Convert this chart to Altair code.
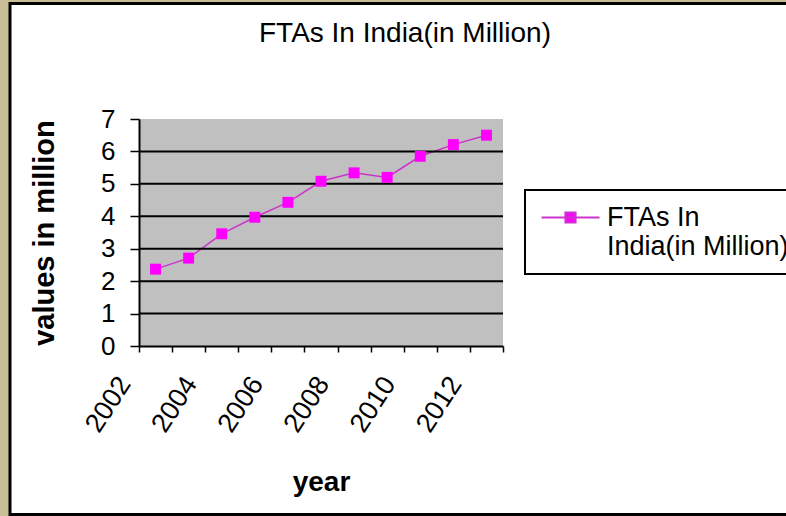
import altair as alt
import pandas as pd

years = ["2002", "2003", "2004", "2005", "2006", "2007", "2008", "2009", "2010", "2011", "2012"]
values = [2.37, 2.71, 3.46, 3.97, 4.43, 5.08, 5.34, 5.20, 5.85, 6.21, 6.50]
series_name = "FTAs In India(in Million)"
legend_lines = ["FTAs In", "India(in Million)"]
y_tick_values = [0, 1, 2, 3, 4, 5, 6, 7]
grid_values = [1, 2, 3, 4, 5, 6]

df = pd.DataFrame({"year": years, "value": values, "series": series_name})
grid_df = pd.DataFrame({"g": grid_values})
one = pd.DataFrame({"k": [0]})

W, H = 364, 227
PL, PT = 139, 119
TOTAL_W, TOTAL_H = 786, 516
FONT = "Liberation Sans"

yscale = alt.Scale(domain=[0, 7], nice=False, zero=True)
xscale = alt.Scale(type="band", paddingInner=0, paddingOuter=0)

xaxis = alt.Axis(
    title="year",
    labelExpr="parseInt(datum.value) % 2 == 0 ? datum.label : ''",
    labelAngle=-57, labelAlign="right", labelBaseline="middle",
    labelFontSize=27, labelPadding=27, labelOffset=-31, labelOverlap=False,
    tickBand="extent", tickSize=6, tickColor="black", tickWidth=1.5,
    domainColor="black", domainWidth=2, grid=False,
    titleFontSize=28, titleFontWeight="bold", titleY=144, titleBaseline="alphabetic",
    labelColor="black", titleColor="black", zindex=1,
)

yaxis = alt.Axis(
    title="values in million", values=y_tick_values, grid=False,
    tickSize=9, tickColor="black", tickWidth=1.5, labelPadding=15, labelFontSize=26,
    titleFontSize=29, titleFontWeight="bold", titleAngle=-90, titleX=-86, titleY=H / 2,
    titleBaseline="alphabetic", titleAlign="center",
    domainColor="black", domainWidth=2, labelColor="black", titleColor="black", zindex=1,
)

# white page inside the khaki border
frame = alt.Chart(one).mark_rect(fill="white").encode(
    x=alt.value(10 - PL), x2=alt.value(TOTAL_W - PL),
    y=alt.value(3 - PT), y2=alt.value(TOTAL_H - 2 - PT),
)
border_left = alt.Chart(one).mark_rule(color="black", strokeWidth=3).encode(
    x=alt.value(10 - PL), y=alt.value(2 - PT), y2=alt.value(TOTAL_H - PT)
)
border_top = alt.Chart(one).mark_rule(color="black", strokeWidth=3).encode(
    y=alt.value(3.5 - PT), x=alt.value(9 - PL), x2=alt.value(TOTAL_W - PL)
)
border_bottom = alt.Chart(one).mark_rule(color="black", strokeWidth=3).encode(
    y=alt.value(TOTAL_H - 1.5 - PT), x=alt.value(9 - PL), x2=alt.value(TOTAL_W - PL)
)

plotbg = alt.Chart(one).mark_rect(fill="#C0C0C0").encode(
    x=alt.value(0), x2=alt.value(W), y=alt.value(0), y2=alt.value(H)
)

line = alt.Chart(df).mark_line(strokeWidth=1.5).encode(
    x=alt.X("year:O", scale=xscale, axis=xaxis),
    y=alt.Y("value:Q", scale=yscale, axis=yaxis),
    color=alt.Color(
        "series:N",
        scale=alt.Scale(domain=[series_name], range=["#CC33CC"]),
        legend=alt.Legend(
            title=None, orient="none", legendX=386, legendY=71,
            labelFontSize=27, labelLimit=1000, labelColor="black",
            labelExpr="['" + legend_lines[0] + "', '" + legend_lines[1] + "']",
            symbolType="M-4,0L4,0M-0.7,-0.7L0.7,-0.7L0.7,0.7L-0.7,0.7Z",
            symbolSize=210, symbolStrokeWidth=2, symbolFillColor="#FF00FF",
            symbolOffset=18,
            strokeColor="black", fillColor="white", padding=14, labelOffset=23,
            cornerRadius=0,
        ),
    ),
)

grid = alt.Chart(grid_df).mark_rule(color="black", strokeWidth=2).encode(
    y=alt.Y("g:Q", scale=yscale, axis=yaxis)
)

points = alt.Chart(df).mark_point(shape="square", filled=True, size=120, color="#FF00FF", opacity=1).encode(
    x=alt.X("year:O", scale=xscale, axis=xaxis),
    y=alt.Y("value:Q", scale=yscale, axis=yaxis),
)

chart = alt.layer(frame, border_left, border_top, border_bottom, plotbg, line, grid, points).properties(
    width=W, height=H,
    autosize=alt.AutoSizeParams(type="none"),
    padding={"left": PL, "top": PT, "right": TOTAL_W - PL - W, "bottom": TOTAL_H - PT - H},
    background="#C8BE96",
    title=alt.TitleParams(
        text="FTAs In India(in Million)", fontSize=28, font=FONT, fontWeight="normal",
        dx=84, offset=0, dy=69, baseline="alphabetic", anchor="middle", color="black",
    ),
).configure(font=FONT).configure_view(stroke=None).configure_legend(strokeWidth=2)

chart.save("out.html", embed_options={"renderer": "svg", "actions": False})
